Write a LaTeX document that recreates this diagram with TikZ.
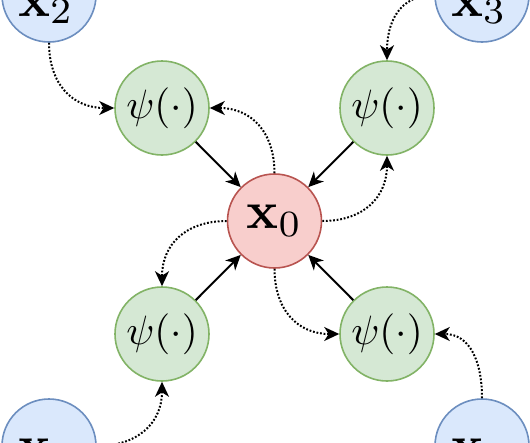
\documentclass[tikz,border=0pt]{standalone}
\usepackage{graphicx}
\usetikzlibrary{arrows.meta}
\definecolor{redfill}{HTML}{F8CECC}
\definecolor{reddraw}{HTML}{B85450}
\definecolor{greenfill}{HTML}{D5E8D4}
\definecolor{greendraw}{HTML}{82B366}
\definecolor{bluefill}{HTML}{DAE8FC}
\definecolor{bluedraw}{HTML}{6C8EBF}
\newcommand{\psitxt}{\scalebox{4.1}{$\psi(\cdot)$}}
\newcommand{\xtxt}[1]{\scalebox{5.3}{$\mathbf{x}_{#1}$}}
\tikzset{
  circ/.style={circle, minimum size=94pt, inner sep=0pt, line width=1.6pt},
  rednode/.style={circ, fill=redfill, draw=reddraw},
  greennode/.style={circ, fill=greenfill, draw=greendraw},
  bluenode/.style={circ, fill=bluefill, draw=bluedraw},
  solidarrow/.style={line width=2pt, -{Stealth[length=15pt,width=14pt,inset=4.5pt]}},
  dotarrow/.style={line width=2pt, dash pattern=on 1.8pt off 1.8pt, looseness=1.15, -{Stealth[length=15pt,width=14pt,inset=4.5pt]}},
}
\begin{document}
\begin{tikzpicture}[x=1pt,y=-1pt]
\useasboundingbox (0,0) rectangle (530,442);
\clip (0,0) rectangle (530,442);
% central node
\node[rednode] (x0) at (274.5,221) {\xtxt{0}};
% green nodes
\node[greennode] (g1) at (162,108) {\psitxt};
\node[greennode] (g2) at (387,108) {\psitxt};
\node[greennode] (g3) at (162,334) {\psitxt};
\node[greennode] (g4) at (387,334) {\psitxt};
% blue nodes
\node[bluenode] (b2) at (49,-5) {};
\node[bluenode] (b3) at (482,-5) {};
\node[bluenode] (b1) at (49,446) {};
\node[bluenode] (b4) at (482,446) {};
\node[anchor=base, inner sep=0pt] (l2) at (46,16) {\xtxt{2}};
\node[anchor=base, inner sep=0pt] (l3) at (479,16) {\xtxt{3}};
\node[anchor=base, inner sep=0pt] (l1) at (46,462) {\xtxt{1}};
\node[anchor=base, inner sep=0pt] (l4) at (479,462) {\xtxt{4}};
% solid arrows into x0
\draw[solidarrow] (g1) -- (x0);
\draw[solidarrow] (g2) -- (x0);
\draw[solidarrow] (g3) -- (x0);
\draw[solidarrow] (g4) -- (x0);
% dotted arrows from x0
\draw[dotarrow] (x0.north) to[out=90,in=0] (g1.east);
\draw[dotarrow] (x0.east) to[out=0,in=-90] (g2.south);
\draw[dotarrow] (x0.west) to[out=180,in=90] (g3.north);
\draw[dotarrow] (x0.south) to[out=-90,in=180] (g4.west);
% dotted arrows from inputs
\draw[dotarrow] (b2.south) to[out=-90,in=180] (g1.west);
\draw[dotarrow] (b3.west) to[out=180,in=90] (g2.north);
\draw[dotarrow] (b1.east) to[out=0,in=-90] (g3.south);
\draw[dotarrow] (b4.north) to[out=90,in=0] (g4.east);
\end{tikzpicture}
\end{document}
